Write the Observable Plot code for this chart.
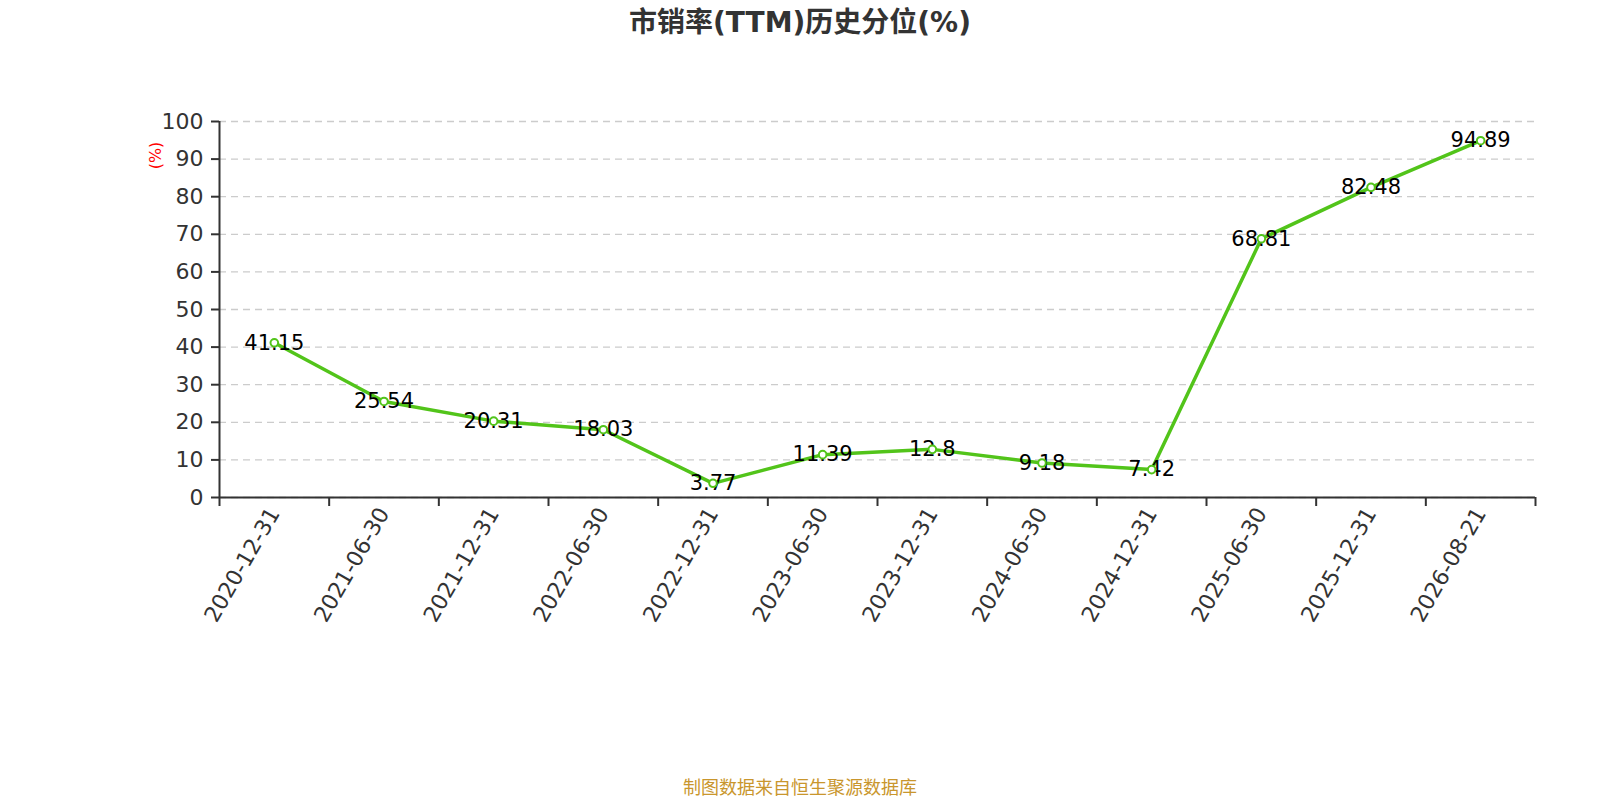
<!DOCTYPE html>
<html>
<head>
<meta charset="utf-8">
<script src="https://cdn.jsdelivr.net/npm/d3@7"></script>
<script src="https://cdn.jsdelivr.net/npm/@observablehq/plot@0.6"></script>
<style>
  html, body { margin: 0; padding: 0; background: #fff; }
  #wrap { position: relative; width: 1600px; height: 800px; overflow: hidden; }
  #title { position: absolute; left: 0; top: 5px; width: 1600px; text-align: center;
    font: bold 28px "DejaVu Sans", "Noto Sans CJK SC", sans-serif; color: #333; line-height: 36px; }
  #footer { position: absolute; left: 0; top: 776px; width: 1600px; text-align: center;
    font: 18px "Noto Sans CJK SC", sans-serif; color: #c9962d; line-height: 20px; }
  #chart { position: absolute; left: 0; top: 0; }
</style>
</head>
<body>
<div id="wrap">
  <div id="chart"></div>
  <div id="title">市销率(TTM)历史分位(%)</div>
  <div id="footer">制图数据来自恒生聚源数据库</div>
</div>
<script>
const categories = ["2020-12-31","2021-06-30","2021-12-31","2022-06-30","2022-12-31","2023-06-30","2023-12-31","2024-06-30","2024-12-31","2025-06-30","2025-12-31","2026-08-21"];
const values = [41.15, 25.54, 20.31, 18.03, 3.77, 11.39, 12.8, 9.18, 7.42, 68.81, 82.48, 94.89];
const yTicks = [0,10,20,30,40,50,60,70,80,90,100];
const yLabel = "(%)";

const data = categories.map((c, i) => ({i, c, v: values[i]}));
const boundaries = d3.range(categories.length + 1);
const green = "#52c41a";
const cx = d => d.i + 0.5;

const chart = Plot.plot({
  width: 1600,
  height: 800,
  marginLeft: 219,
  marginRight: 65,
  marginTop: 121,
  marginBottom: 303,
  x: {type: "linear", domain: [0, categories.length], axis: null},
  y: {domain: [0, 100], axis: null},
  style: {fontFamily: "DejaVu Sans, sans-serif", background: "transparent"},
  marks: [
    Plot.gridY(yTicks, {stroke: "#cccccc", strokeOpacity: 1, strokeWidth: 1.3, strokeDasharray: "7,5"}),
    Plot.axisY(yTicks, {tickSize: 8, tickPadding: 8, fontSize: 22, color: "#333", strokeWidth: 2, label: null}),
    Plot.axisX(boundaries, {tickSize: 9, tickFormat: () => "", color: "#333", strokeWidth: 2, label: null}),
    Plot.ruleY([0], {stroke: "#333", strokeWidth: 2}),
    Plot.ruleX([0], {stroke: "#333", strokeWidth: 2}),
    Plot.text(data, {x: cx, text: "c", frameAnchor: "bottom", rotate: -60, textAnchor: "end", lineAnchor: "middle", dy: 12, fontSize: 22, fill: "#333"}),
    Plot.text([yLabel], {frameAnchor: "top-left", dx: -64, dy: 34, rotate: -90, textAnchor: "middle", lineAnchor: "middle", fill: "red", fontSize: 16}),
    Plot.line(data, {x: cx, y: "v", stroke: green, strokeWidth: 3.5}),
    Plot.text(data, {x: cx, y: "v", text: d => String(d.v), fontSize: 21, fill: "#000"}),
    Plot.dot(data, {x: cx, y: "v", r: 3.8, fill: "white", stroke: green, strokeWidth: 2})
  ]
});
document.getElementById("chart").appendChild(chart);
</script>
</body>
</html>
